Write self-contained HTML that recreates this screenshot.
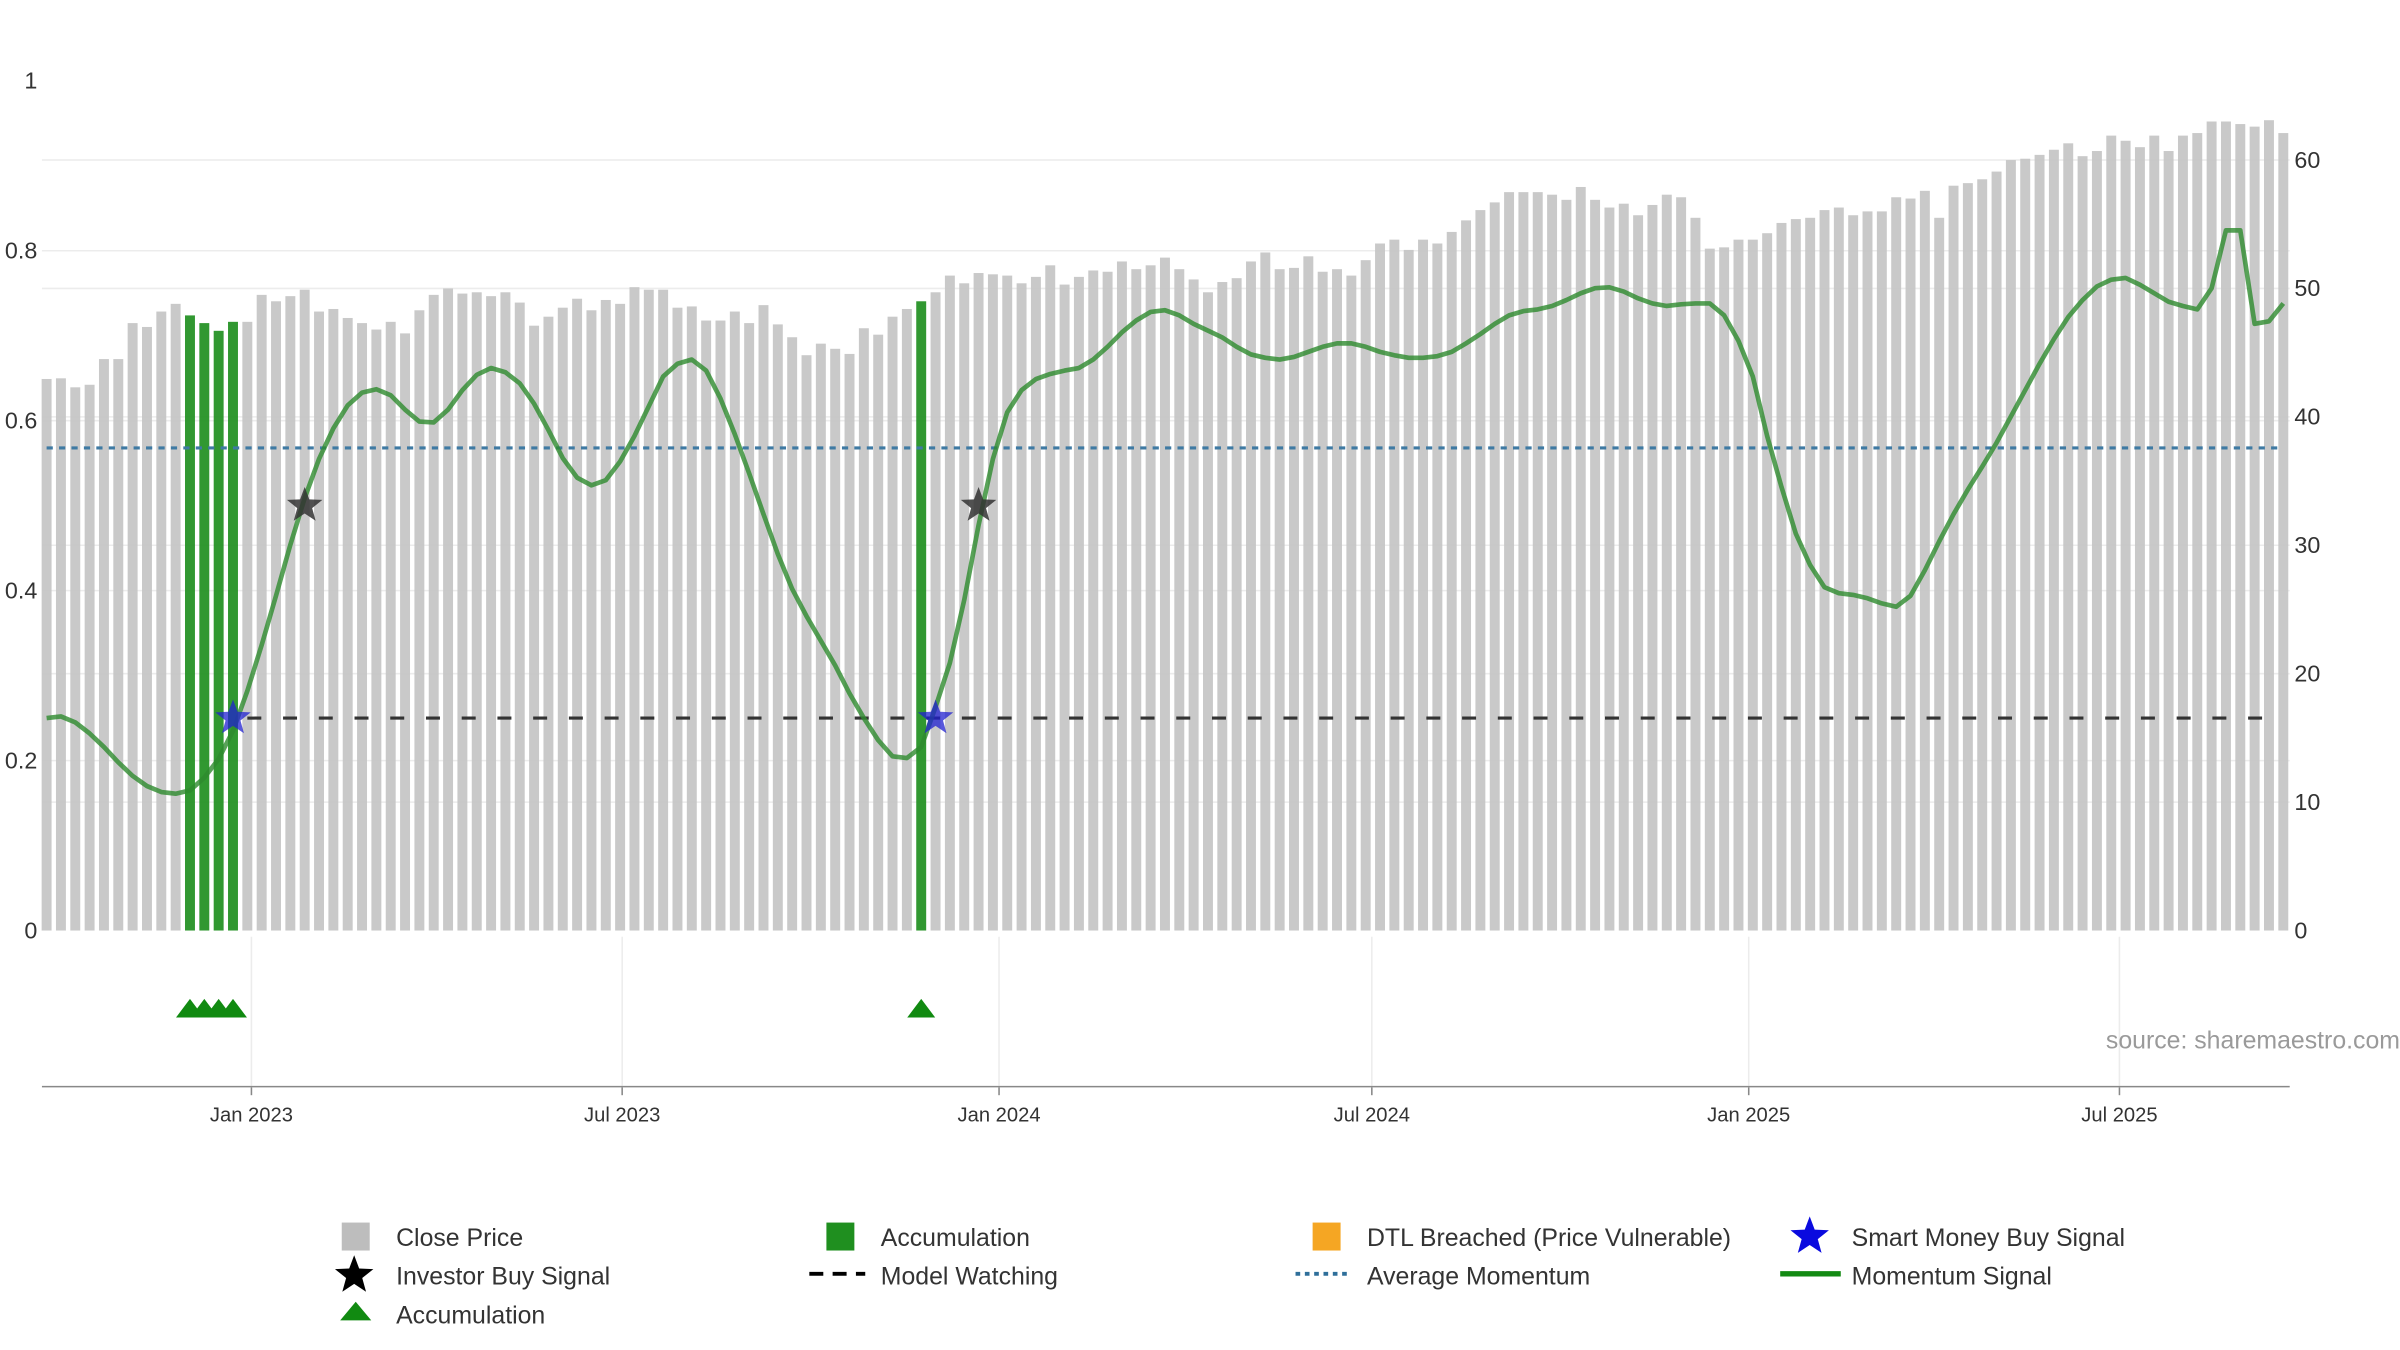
<!DOCTYPE html>
<html><head><meta charset="utf-8"><title>Momentum chart</title>
<style>
html,body{margin:0;padding:0;background:#fff;}
svg{display:block;font-family:"Liberation Sans","DejaVu Sans",sans-serif;}
</style></head>
<body>
<svg id="chart" width="2400" height="1350" viewBox="0 0 1545 869" xmlns="http://www.w3.org/2000/svg">
<g id="grid"></g>
<g id="bars"></g>
<g id="lines"></g>
<g id="marks"></g>
<g id="axes"></g>
<text x="1545" y="675" text-anchor="end" font-size="16" fill="#9a9a9a">source: sharemaestro.com</text>
<g id="legend" font-size="16" fill="#333">
  <g><rect x="220" y="787" width="18" height="18" fill="#bdbdbd"/><text x="255" y="802">Close Price</text></g>
  <g><rect x="532" y="787" width="18" height="18" fill="#1f8f1f"/><text x="567" y="802">Accumulation</text></g>
  <g><rect x="845" y="787" width="18" height="18" fill="#f5a623"/><text x="880" y="802">DTL Breached (Price Vulnerable)</text></g>
  <g><polygon id="lgStarBlue" fill="#0a0adf"/><text x="1192" y="802">Smart Money Buy Signal</text></g>
  <g><polygon id="lgStarBlack" fill="#000"/><text x="255" y="827">Investor Buy Signal</text></g>
  <g><line x1="521" y1="820" x2="557" y2="820" stroke="#000" stroke-width="2.5" stroke-dasharray="9,6"/><text x="567" y="827">Model Watching</text></g>
  <g><line x1="834" y1="820" x2="870" y2="820" stroke="#2f6f9a" stroke-width="2.5" stroke-dasharray="3,3"/><text x="880" y="827">Average Momentum</text></g>
  <g><line x1="1146" y1="820" x2="1185" y2="820" stroke="#138a13" stroke-width="3.5"/><text x="1192" y="827">Momentum Signal</text></g>
  <g><polygon points="219,850 229,838 239,850" fill="#118a11"/><text x="255" y="852">Accumulation</text></g>
</g>
</svg>
<script>
// ---- data ----
const startDate = "2022-09-23";
const closePrices = [42.95,43.0,42.3,42.5,44.5,44.5,47.3,47.0,48.2,48.8,47.9,47.3,46.7,47.4,47.4,49.5,49.0,49.4,49.9,48.2,
48.4,47.7,47.3,46.8,47.4,46.5,48.3,49.5,50.0,49.6,49.7,49.4,49.7,48.9,47.1,47.8,48.5,49.2,48.3,49.1,
48.8,50.1,49.9,49.9,48.5,48.6,47.5,47.5,48.2,47.3,48.7,47.2,46.2,44.8,45.7,45.3,44.9,46.9,46.4,47.8,
48.4,49.0,49.7,51.0,50.4,51.2,51.1,51.0,50.4,50.9,51.8,50.3,50.9,51.4,51.3,52.1,51.5,51.8,52.4,51.5,
50.7,49.7,50.5,50.8,52.1,52.8,51.5,51.6,52.5,51.3,51.5,51.0,52.2,53.5,53.8,53.0,53.8,53.5,54.4,55.3,
56.1,56.7,57.5,57.5,57.5,57.3,56.9,57.9,56.9,56.3,56.6,55.7,56.5,57.3,57.1,55.5,53.1,53.2,53.8,53.8,
54.3,55.1,55.4,55.5,56.1,56.3,55.7,56.0,56.0,57.1,57.0,57.6,55.5,58.0,58.2,58.5,59.1,60.0,60.1,60.4,
60.8,61.3,60.3,60.7,61.9,61.5,61.0,61.9,60.7,61.9,62.1,63.0,63.0,62.8,62.6,63.1,62.1];
const momentum = [.250,.252,.245,.232,.216,.198,.182,.170,.163,.161,.165,.180,.202,.235,.282,.336,.394,.454,.509,.555,
.591,.618,.633,.637,.630,.613,.599,.598,.613,.636,.654,.662,.657,.644,.620,.589,.556,.533,.524,.530,
.552,.582,.617,.652,.667,.672,.659,.626,.584,.538,.490,.443,.402,.370,.341,.312,.279,.250,.224,.205,
.203,.216,.263,.315,.389,.477,.555,.610,.636,.649,.655,.659,.662,.672,.687,.704,.718,.728,.730,.724,
.714,.706,.698,.687,.678,.674,.672,.675,.681,.687,.691,.691,.687,.681,.677,.674,.674,.676,.681,.691,
.702,.714,.724,.729,.731,.735,.742,.750,.756,.757,.752,.744,.738,.735,.737,.738,.738,.724,.694,.652,
.582,.522,.467,.430,.404,.397,.395,.391,.385,.381,.394,.424,.458,.490,.519,.546,.574,.605,.636,.667,
.696,.722,.742,.758,.766,.768,.760,.750,.740,.735,.731,.756,.824,.824,.714,.717,.738];
const accumulationIdx = [10,11,12,13,61];
const smartMoneyIdx = [13,62];
const investorIdx = [18,65];
const signalLevel = 0.5;
const smartLevel = 0.25;
const watchingLevel = 0.25;
const watchingStart = 14;
const avgMomentum = 0.568;
const leftTicks = [0,0.2,0.4,0.6,0.8,1];
const leftTickLabels = ["0","0.2","0.4","0.6","0.8","1"];
const rightTicks = [0,10,20,30,40,50,60];
const xTickDates = ["2023-01-01","2023-07-01","2024-01-01","2024-07-01","2025-01-01","2025-07-01"];
const xTickLabels = ["Jan 2023","Jul 2023","Jan 2024","Jul 2024","Jan 2025","Jul 2025"];

// ---- scales ----
const NS="http://www.w3.org/2000/svg";
const X0=30, PITCH=9.23, BASE=599;
const day0 = Date.parse(startDate);
function xIdx(i){return X0+PITCH*i;}
function xDate(d){return X0+PITCH*((Date.parse(d)-day0)/86400000/7);}
function yL(v){return BASE-547*v;}
function yR(v){return BASE-8.267*v;}
function mk(tag,attrs,parent){const e=document.createElementNS(NS,tag);for(const k in attrs)e.setAttribute(k,attrs[k]);parent.appendChild(e);return e;}
function starPts(cx,cy,R){const r=R*0.42;let p=[];for(let k=0;k<10;k++){const a=-Math.PI/2+k*Math.PI/5;const rr=k%2?r:R;p.push((cx+rr*Math.cos(a)).toFixed(2)+","+(cy+rr*Math.sin(a)).toFixed(2));}return p.join(" ");}

const grid=document.getElementById('grid'), bars=document.getElementById('bars'), lines=document.getElementById('lines'), marks=document.getElementById('marks'), axes=document.getElementById('axes');

// gridlines
leftTicks.forEach(t=>{if(t>0&&t<1){const g=mk('line',{x1:27,x2:1474,y1:yL(t),y2:yL(t),stroke:'#ececec','stroke-width':1},grid);

}});
rightTicks.forEach(t=>{if(t>0){const g=mk('line',{x1:27,x2:1474,y1:yR(t),y2:yR(t),stroke:'#ececec','stroke-width':1},grid);

}});
xTickDates.forEach(d=>{const g=mk('line',{x1:xDate(d),x2:xDate(d),y1:603,y2:699,stroke:'#ececec','stroke-width':1},grid);

});

// bars
closePrices.forEach((v,i)=>{const acc=accumulationIdx.includes(i);
const b=mk('rect',{x:xIdx(i)-3.2,y:yR(v),width:6.4,height:BASE-yR(v),fill:acc?'#1f8f1f':'#c6c6c6','fill-opacity':acc?0.92:0.95},bars);

});

// average momentum
const avg=mk('line',{x1:xIdx(0),x2:xIdx(closePrices.length-1),y1:yL(avgMomentum),y2:yL(avgMomentum),stroke:'#3f7aa3','stroke-width':2,'stroke-dasharray':'4,4'},lines);


// model watching
const mw=mk('line',{x1:xIdx(watchingStart),x2:xIdx(closePrices.length-1),y1:yL(watchingLevel),y2:yL(watchingLevel),stroke:'#333','stroke-width':2,'stroke-dasharray':'9,14'},lines);


// momentum
const pts=momentum.map((v,i)=>xIdx(i).toFixed(2)+','+yL(v).toFixed(2)).join(' ');
const ml=mk('polyline',{points:pts,fill:'none',stroke:'#2e8b2e','stroke-opacity':0.8,'stroke-width':3,'stroke-linejoin':'round'},lines);



// stars
smartMoneyIdx.forEach(i=>{const s=mk('polygon',{points:starPts(xIdx(i),yL(smartLevel),12),fill:'#2020d0','fill-opacity':0.75},marks);

});
investorIdx.forEach(i=>{const s=mk('polygon',{points:starPts(xIdx(i),yL(signalLevel),12),fill:'#333','fill-opacity':0.85},marks);

});
// triangles
accumulationIdx.forEach(i=>{const x=xIdx(i);const t=mk('polygon',{points:(x-9)+',655 '+x+',643 '+(x+9)+',655',fill:'#118a11'},marks);

});

// axes
const xa=mk('line',{x1:27,x2:1474,y1:699.5,y2:699.5,stroke:'#888','stroke-width':1},axes);


xTickDates.forEach((d,k)=>{const x=xDate(d);
const tk=mk('line',{x1:x,x2:x,y1:700,y2:705,stroke:'#888'},axes);


const t=mk('text',{x:x,y:722,'text-anchor':'middle','font-size':13,fill:'#333'},axes);t.textContent=xTickLabels[k];

});
leftTicks.forEach((v,k)=>{const t=mk('text',{x:24,y:yL(v)+5,'text-anchor':'end','font-size':15,fill:'#333'},axes);t.textContent=leftTickLabels[k];

});
rightTicks.forEach(v=>{const t=mk('text',{x:1477,y:yR(v)+5,'font-size':15,fill:'#333'},axes);t.textContent=String(v);

});

document.getElementById('lgStarBlue').setAttribute('points',starPts(1165,796,13));
document.getElementById('lgStarBlack').setAttribute('points',starPts(228,821,13));
</script>
</body></html>
